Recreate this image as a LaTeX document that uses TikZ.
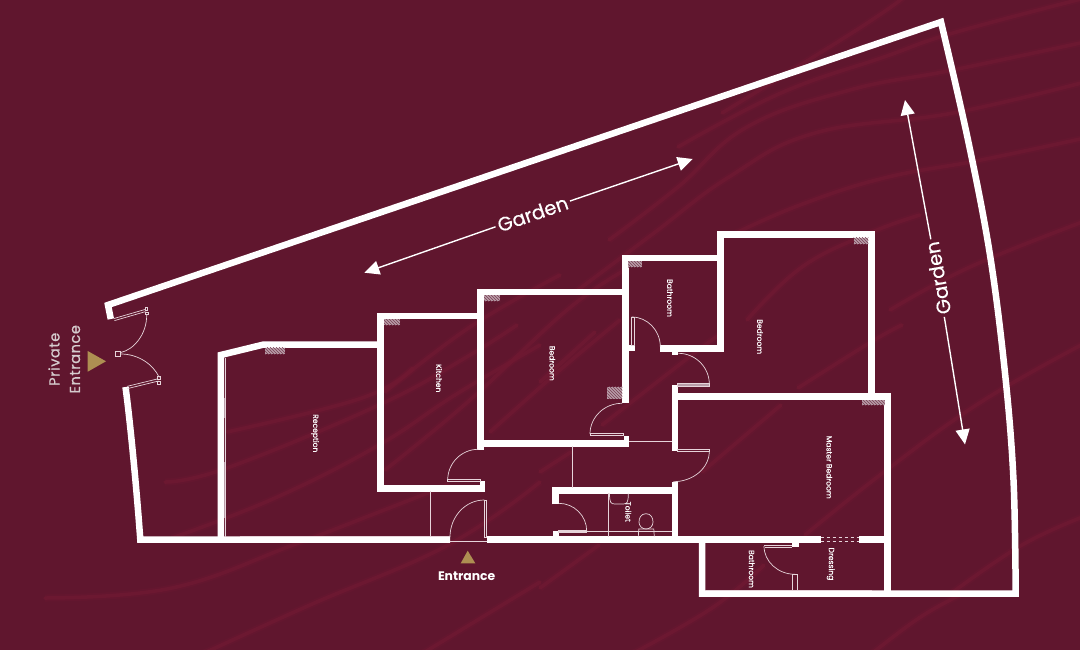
\documentclass[tikz,border=0pt]{standalone}
\usepackage{fontspec}
\setmainfont{Poppins}
\newfontfamily\medfont[FakeBold=0.35]{Poppins}
\newfontfamily\garfont[FakeBold=0.4]{Poppins}
\newfontfamily\sidefont[FakeBold=0.8,LetterSpace=4]{Poppins}
\usetikzlibrary{patterns,arrows.meta}
\definecolor{bgc}{HTML}{60162E}
\definecolor{streak}{HTML}{701932}
\definecolor{tanc}{HTML}{AE8F52}
\definecolor{thinc}{HTML}{E6D4DA}
\definecolor{hatchc}{HTML}{B89DA8}
\definecolor{pvt}{HTML}{D6CCCE}
\newcommand{\dorarc}[4]{(#1,#2) .. controls ({#1},{#2+.55*(#4-#2)}) and ({#3+.55*(#1-#3)},{#4}) .. (#3,#4)}
\newcommand{\bandline}[1]{\draw[band] plot[smooth,tension=.7] coordinates {#1};}
\tikzset{
  wall/.style={draw=white,line width=6.5pt,miter limit=10},
  thinline/.style={draw=thinc,line width=.7pt},
  hatchbox/.style={fill=hatchc,draw=none},
  hatchline/.style={pattern=north west lines,pattern color=bgc!70!hatchc},
  roomlabel/.style={text=white,font=\medfont\fontsize{7.6}{8}\selectfont,rotate=-90,inner sep=0pt},
  gardenlabel/.style={text=white,font=\garfont\fontsize{19.5}{20}\selectfont,inner sep=2.5pt},
  gardenarrow/.style={draw=white,line width=1.4pt,-{Triangle[length=15pt,width=14pt]}},
  band/.style={draw=streak,line cap=round,line width=3.5pt,opacity=.75,preaction={draw=streak,line width=7pt,opacity=.3}},
  markertri/.style={fill=tanc,draw=none}
}
\begin{document}
\begin{tikzpicture}[x=1pt,y=-1pt]
\path[use as bounding box,fill=bgc] (0,0) rectangle (1080,650);
% background streaks
\begin{scope}
\clip (0,0) rectangle (1080,650);
\bandline{(722,113) (836,43) (891,7) (905,-5)}
\bandline{(678,147) (781,93) (884,57) (953,33) (1085,-2)}
\bandline{(609,240) (678,187) (747,127) (850,90) (953,70) (1085,42)}
\bandline{(574,293) (654,233) (729,177) (815,133) (953,113) (1085,82)}
\bandline{(736,233) (800,205) (884,178) (981,160) (1085,138)}
\bandline{(747,320) (802,267) (870,233) (920,215)}
\bandline{(890,310) (970,267) (1085,221)}
\bandline{(540,382) (595,332)}
\bandline{(602,425) (688,358) (719,335)}
\bandline{(798,388) (871,342) (902,325)}
\bandline{(702,472) (781,405)}
\bandline{(805,535) (884,472) (981,402) (1085,343)}
\bandline{(630,655) (712,608) (764,565)}
\bandline{(870,655) (919,618) (960,595)}
\bandline{(953,592) (1022,545) (1085,516)}
\bandline{(540,588) (599,545)}
\bandline{(540,472) (571,452)}
\bandline{(45,598) (172,588) (293,545) (379,512) (448,485)}
\bandline{(165,482) (227,468) (379,405) (465,358) (517,325)}
\bandline{(172,538) (275,498) (379,445) (455,395) (540,345)}
\bandline{(200,655) (310,605) (448,545) (540,482)}
\bandline{(420,655) (540,582)}
\bandline{(227,432) (362,398) (413,368)}
\bandline{(385,470) (470,400) (567,310) (625,270)}
\bandline{(385,392) (470,327) (560,275)}
\bandline{(490,432) (560,370) (620,320)}
\end{scope}
% outer wall
\draw[wall] (110.8,319) -- (108,305) -- (941,22)
  -- plot[smooth,tension=.6] coordinates {(941,22) (968,140) (990,255) (1005,373) (1013.5,480) (1015.7,593.5)}
  -- (702,593.5) -- (702,537);
\draw[wall] (125.5,387) .. controls (129,412) and (136,480) .. (140.3,539.7) -- (450,539.7);
\draw[wall] (487,539.7) -- (820.7,539.7);
\draw[wall] (859,539.7) -- (887.5,539.7);
% reception
\draw[wall] (220.8,540) -- (220.8,355) -- (263,344.7) -- (380.7,344.7);
% kitchen and bedroom
\draw[wall] (480.7,316) -- (380.7,316) -- (380.7,488.3) -- (485,488.3);
\draw[wall] (480.7,449.7) -- (480.7,292) -- (625.3,292);
\draw[wall] (480.7,443.3) -- (629.3,443.3);
\draw[wall] (625.3,403.3) -- (625.3,258) -- (720.5,258);
\draw[wall] (660,348.3) -- (720.5,348.3) -- (720.5,234.3) -- (871.3,234.3) -- (871.3,396.7);
\draw[wall] (675,450.7) -- (675,385);
\draw[wall] (672,396.7) -- (887.5,396.7) -- (887.5,593.5);
\draw[wall] (675,481.7) -- (675,540);
\draw[wall] (555.7,504.3) -- (555.7,490.3) -- (678,490.3);
% stubs
\fill[white] (480,481) rectangle (485,491);
\fill[white] (623.5,435.5) rectangle (629.3,446);
\fill[white] (628,344.7) rectangle (634.7,350.7);
\fill[white] (672,351) rectangle (678.3,354.7);
\fill[white] (552.7,530.7) rectangle (558.7,537);
\fill[white] (792,542.5) rectangle (798.7,547);
% hatches
\foreach \xa/\ya/\xb/\yb in {265/347.7/285/354, 384/319.3/400/325.3, 484/295.3/500/301.3, 607.3/386.7/622.3/398.7, 628.3/261.3/641.7/267.3, 853.7/238/868.3/244, 862/400/884.5/405.3}{
  \fill[hatchbox] (\xa,\ya) rectangle (\xb,\yb);
  \fill[hatchline] (\xa,\ya) rectangle (\xb,\yb);
}
% reception inner glazing
\fill[hatchc] (223.8,398) rectangle (226,418);
\fill[hatchc] (223.8,462) rectangle (226,518);
\draw[thinline] (225,358) -- (225,536.5);
\draw[thinline] (240,536.3) -- (450,536.3);
% thin lines
\draw[thinline] (430.3,491) -- (430.3,537);
\draw[thinline] (572.7,446) -- (572.7,487.5);
\draw[thinline] (629.3,441.3) -- (672,441.3);
\draw[thinline] (558,531) -- (672,531);
\draw[thinline] (608.7,493) -- (608.7,537);
\draw[thinline] (705,590.3) -- (792,590.3) (797.5,590.3) -- (872,590.3);
\draw[thinline] (450,541) -- (487,541);
% doors: leaves
\draw[thinline] (677,449.3) rectangle (709.3,451.5);
\draw[thinline] (677,383.3) rectangle (709.3,386);
\fill[hatchc] (678,384) rectangle (709,385.6);
\draw[thinline] (631.7,317) rectangle (633.9,345);
\draw[thinline] (590,433.3) rectangle (623.3,435.7);
\draw[thinline] (447.7,479.3) rectangle (480,481.7);
\draw[thinline] (484.3,500) rectangle (486.7,537);
\draw[thinline] (558.7,530) rectangle (586.7,532.3);
\draw[thinline] (764,545) -- (792,545) (765,547.2) -- (792,547.2);
\draw[thinline] (792.3,574.3) rectangle (797.3,590.7);
% doors: swings
\draw[thinline] \dorarc{709.3}{451.3}{673.3}{481.7};
\draw[thinline] \dorarc{709.3}{384}{678.3}{353.3};
\draw[thinline] \dorarc{660.3}{346.7}{631.7}{317};
\draw[thinline] \dorarc{590}{434}{622}{403.3};
\draw[thinline] \dorarc{447.7}{480}{478.3}{449.3};
\draw[thinline] \dorarc{450}{537}{484.3}{500};
\draw[thinline] \dorarc{586.7}{531}{558.7}{503.3};
\draw[thinline] \dorarc{764}{546}{795}{574.3};
% dressing dashed opening
\draw[thinline,dashed] (820.7,537.8) -- (859,537.8);
\draw[thinline,dashed] (820.7,541.4) -- (859,541.4);
% sanitary
\draw[thinline] (609.5,493.5) .. controls (609.5,503) and (611,504) .. (615,504) -- (623,504) .. controls (627,504) and (628.3,503) .. (628.3,493.5);
\draw[thinline] (646,513.7) .. controls (641,513.7) and (639,518) .. (639,522) .. controls (639,526) and (642,529) .. (646,529) .. controls (650,529) and (653,526) .. (653,522) .. controls (653,518) and (651,513.7) .. (646,513.7);
\draw[thinline] (638.3,536.7) -- (638.8,529) -- (653.8,529) -- (654.3,536.7);
% private double door
\draw[thinline] (114,318.5) -- (145,309.5) (114.5,320.6) -- (145.5,311.6);
\draw[thinline] (145,307.8) rectangle (147.5,310);
\draw[thinline] (145.5,312) rectangle (148,314.5);
\draw[thinline] (115,351.7) rectangle (120.7,356.7);
\draw[thinline] (146.7,314.5) .. controls (147,335) and (133,350) .. (120.7,352.5);
\draw[thinline] (120.7,354) .. controls (138,354) and (153,364) .. (159.3,377.5);
\draw[thinline] (127,386.4) -- (158,378.8) (127.5,388.6) -- (158.5,381);
\draw[thinline] (157,376.5) rectangle (160,379);
\draw[thinline] (157.5,381) rectangle (160,384);
% markers
\path[markertri] (106,361.3) -- (87.7,351) -- (87.7,371.7) -- cycle;
\path[markertri] (467.7,550.7) -- (460.7,563.3) -- (475.3,563.3) -- cycle;
% room labels
\node[roomlabel] (reception) at (315,433.3) {Reception};
\node[roomlabel] (kitchen) at (439,378.3) {Kitchen};
\node[roomlabel] (bed1) at (552.3,363.3) {Bedroom};
\node[roomlabel] (bath1) at (670,298) {Bathroom};
\node[roomlabel] (bed2) at (760,336.7) {Bedroom};
\node[roomlabel] (master) at (829.3,467.3) {Master Bedroom};
\node[roomlabel] (bath2) at (751.7,569) {Bathroom};
\node[roomlabel] (dressing) at (830.7,564) {Dressing};
\node[roomlabel] (toilet) at (628.3,511.7) {Toilet};
\node[text=white,font=\bfseries\fontsize{12.4}{14}\selectfont,inner sep=0pt] (entrance) at (466.7,576) {Entrance};
\node[text=pvt,font=\sidefont\fontsize{14.5}{16}\selectfont,rotate=90,inner sep=0pt] (private) at (54,359.3) {Private};
\node[text=pvt,font=\sidefont\fontsize{14.5}{16}\selectfont,rotate=90,inner sep=0pt] (entrance2) at (75,359.3) {Entrance};
% garden arrows
\node[gardenlabel,rotate=19] (g1) at (532.7,213.8) {Garden};
\coordinate (g1a) at (364.3,272.7);
\coordinate (g1b) at (692.7,159);
\draw[gardenarrow] (g1) -- (g1a);
\draw[gardenarrow] (g1) -- (g1b);
\node[gardenlabel,rotate=100] (g2) at (938,278) {Garden};
\coordinate (g2a) at (905,100);
\coordinate (g2b) at (965,444.4);
\draw[gardenarrow] (g2) -- (g2a);
\draw[gardenarrow] (g2) -- (g2b);
\end{tikzpicture}
\end{document}
